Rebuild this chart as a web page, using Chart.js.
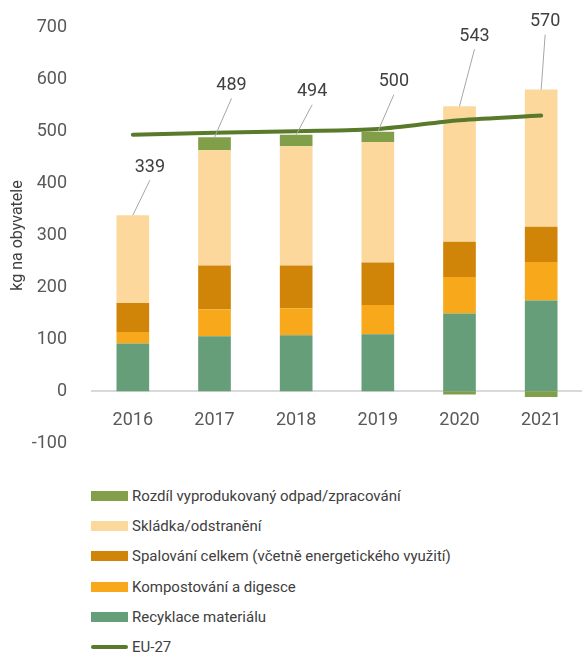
<!DOCTYPE html>
<html>
<head>
<meta charset="utf-8">
<script src="https://cdn.jsdelivr.net/npm/chart.js@4.4.0/dist/chart.umd.min.js"></script>
<style>
  body { margin: 0; background: #fff; font-family: Roboto, sans-serif; }
  #wrap { position: absolute; left: 0; top: 0; width: 582px; height: 471px; }
  #legend { position: absolute; left: 91px; top: 481px; color: #404040; font-size: 15px; }
  .item { height: 30.2px; display: flex; align-items: center; }
  .sw { width: 37px; height: 10px; margin-right: 4px; }
  .ln { width: 37px; height: 4px; border-radius: 2px; margin-right: 4px; }
</style>
</head>
<body>
<div id="wrap"><canvas id="chart"></canvas></div>
<div id="legend"></div>
<script>
const years = ['2016', '2017', '2018', '2019', '2020', '2021']

// kg na obyvatele
const recyklace = [92, 106, 108, 110, 150, 175]
const kompost = [22, 52, 52, 56, 70, 74]
const spalovani = [56, 84, 82, 82, 68, 68]
const skladka = [169, 222, 230, 232, 261, 264]
const rozdil = [0, 25, 22, 20, -6, -11]
const celkem = [339, 489, 494, 500, 543, 570]
const eu27 = [494, 498, 501, 505, 522, 531]

// label offsets for the total labels (pixels from bar top)
const labelDx = [17, 17, 16, 16, 15, 4]
const labelDy = [-48, -52, -43, -50, -70, -68]

const textColor = '#404040'
const tickColor = '#595959'

const totalsPlugin = {
    id: 'totals',
    afterDatasetsDraw(chart) {
        const ctx = chart.ctx
        const y = chart.scales.y
        const x = chart.scales.x
        ctx.save()
        ctx.font = '18px Roboto'
        ctx.fillStyle = textColor
        ctx.textAlign = 'center'
        ctx.textBaseline = 'middle'
        for (let i = 0; i < celkem.length; i++) {
            let pos = recyklace[i] + kompost[i] + spalovani[i] + skladka[i] + Math.max(rozdil[i], 0)
            let bx = x.getPixelForValue(i)
            let by = y.getPixelForValue(pos)
            let lx = bx + labelDx[i]
            let ly = by + labelDy[i]
            ctx.strokeStyle = '#a6a6a6'
            ctx.lineWidth = 1
            ctx.beginPath()
            ctx.moveTo(bx, by)
            ctx.lineTo(lx, ly + 13)
            ctx.stroke()
            ctx.fillText(celkem[i], lx, ly)
        }
        ctx.restore()
    }
}

const chart = new Chart(document.getElementById('chart'), {
    type: 'bar',
    data: {
        labels: years,
        datasets: [
            { type: 'line', label: 'EU-27', data: eu27, borderColor: '#587a2a', borderWidth: 4, pointRadius: 0, tension: 0.3, borderCapStyle: 'round', order: 0 },
            { label: 'Recyklace materiálu', data: recyklace, backgroundColor: '#679e7a', order: 1 },
            { label: 'Kompostování a digesce', data: kompost, backgroundColor: '#f7a81b', order: 1 },
            { label: 'Spalování celkem (včetně energetického využití)', data: spalovani, backgroundColor: '#d08508', order: 1 },
            { label: 'Skládka/odstranění', data: skladka, backgroundColor: '#fcd89d', order: 1 },
            { label: 'Rozdíl vyprodukovaný odpad/zpracování', data: rozdil, backgroundColor: '#819f48', order: 1 }
        ]
    },
    options: {
        responsive: true,
        maintainAspectRatio: false,
        animation: false,
        layout: { padding: { top: 23, right: 0, bottom: 8, left: 0 } },
        datasets: { bar: { barPercentage: 0.4, categoryPercentage: 1 } },
        plugins: { legend: { display: false }, tooltip: { enabled: false } },
        scales: {
            x: {
                stacked: true,
                position: { y: 0 },
                grid: { display: false },
                border: { color: '#d9d9d9', width: 2 },
                ticks: { color: tickColor, font: { family: 'Roboto', size: 18 }, padding: 10 }
            },
            y: {
                stacked: true,
                min: -100,
                max: 700,
                grid: { display: false },
                border: { display: false },
                ticks: { stepSize: 100, color: tickColor, font: { family: 'Roboto', size: 18 }, padding: 17 },
                title: { display: true, text: 'kg na obyvatele', color: textColor, font: { family: 'Roboto', size: 16 }, padding: { top: 8, bottom: 0 } },
                afterFit(s) { s.width = 92 }
            }
        }
    },
    plugins: [totalsPlugin]
})

// legend, top to bottom like the original
let legendOrder = [5, 4, 3, 2, 1, 0]
let html = ''
for (const i of legendOrder) {
    let ds = chart.data.datasets[i]
    if (ds.type === 'line') {
        html += `<div class="item"><span class="ln" style="background:${ds.borderColor}"></span>${ds.label}</div>`
    } else {
        html += `<div class="item"><span class="sw" style="background:${ds.backgroundColor}"></span>${ds.label}</div>`
    }
}
document.getElementById('legend').innerHTML = html
</script>
</body>
</html>
